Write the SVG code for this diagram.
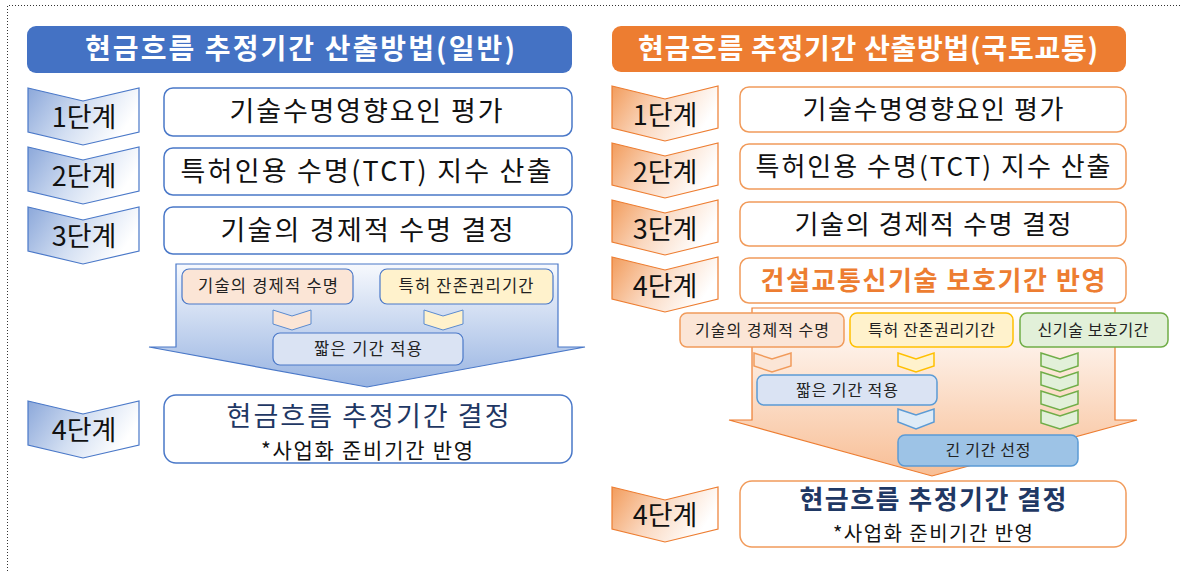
<svg xmlns="http://www.w3.org/2000/svg" width="1182" height="571" viewBox="0 0 1182 571">
<defs>
<linearGradient id="gChevB" x1="0" y1="0" x2="1" y2="0.35">
<stop offset="0" stop-color="#8CA8DA"/><stop offset="0.55" stop-color="#D3DFF2"/><stop offset="1" stop-color="#FFFFFF"/>
</linearGradient>
<linearGradient id="gChevO" x1="0" y1="0" x2="1" y2="0.35">
<stop offset="0" stop-color="#F29C5C"/><stop offset="0.5" stop-color="#FAD8C0"/><stop offset="1" stop-color="#FFFFFF"/>
</linearGradient>
<linearGradient id="gArrB" x1="0" y1="0" x2="0" y2="1">
<stop offset="0" stop-color="#F7F9FD"/><stop offset="1" stop-color="#98B4E2"/>
</linearGradient>
<linearGradient id="gArrO" x1="0" y1="0" x2="0" y2="1">
<stop offset="0" stop-color="#FFFFFF"/><stop offset="1" stop-color="#F8BE95"/>
</linearGradient>
<style>
text { font-family: "Noto Sans CJK KR", "Noto Sans", sans-serif; text-anchor: middle; }
.title { font-size: 28px; font-weight: 700; fill: #FFFFFF; }
.step { font-size: 27px; fill: #111111; }
.main { font-size: 27px; fill: #111111; }
.mainR { font-size: 26px; fill: #111111; }
.small { font-size: 16.5px; fill: #222222; }
.smallR { font-size: 16px; fill: #222222; }
.navy { font-size: 27px; fill: #1F3864; }
.sub { font-size: 21px; fill: #111111; }
.boxB { fill: #FFFFFF; stroke: #4A78C8; stroke-width: 1.5; }
.boxO { fill: #FFFFFF; stroke: #F19B5B; stroke-width: 1.5; }
.chevB { fill: url(#gChevB); stroke: #4A78C8; stroke-width: 1.2; }
.chevO { fill: url(#gChevO); stroke: #ED7D31; stroke-width: 1.2; }
</style>
</defs>
<rect width="1182" height="571" fill="#FFFFFF"/>
<path d="M7.5,571 V5.5 H1182" fill="none" stroke="#333333" stroke-width="1" stroke-dasharray="1 2"/>

<!-- Left panel -->
<g id="title-left"><rect x="27" y="26" width="545" height="47" rx="9" fill="#4472C4"/><text class="title" x="300" y="59" textLength="430">현금흐름 추정기간 산출방법(일반)</text></g>
<g id="l-step1"><polygon class="chevB" points="28,88 83,101 139,88 139,132 83,145 28,132"/><text class="step" x="84" y="127">1단계</text></g>
<g id="l-box1"><rect class="boxB" x="164" y="88" width="408" height="48" rx="9"/><text class="main" x="366" y="121" textLength="273">기술수명영향요인 평가</text></g>
<g id="l-step2"><polygon class="chevB" points="28,147 83,160 139,147 139,191 83,204 28,191"/><text class="step" x="84" y="186">2단계</text></g>
<g id="l-box2"><rect class="boxB" x="164" y="148" width="408" height="47" rx="9"/><text class="main" x="366" y="181" textLength="371">특허인용 수명(TCT) 지수 산출</text></g>
<g id="l-step3"><polygon class="chevB" points="28,207 83,220 139,207 139,251 83,264 28,251"/><text class="step" x="84" y="246">3단계</text></g>
<g id="l-box3"><rect class="boxB" x="164" y="207" width="408" height="47" rx="9"/><text class="main" x="367" y="240" textLength="293">기술의 경제적 수명 결정</text></g>

<g id="connectors">
<polygon points="176,264 558,264 558,347 585,347 367,387 149,347 176,347" fill="url(#gArrB)" stroke="#4A78C8" stroke-width="1.2"/>
<polygon points="273,310 292,316 311,310 311,324 292,330 273,324" fill="#FBE5D6" stroke="#5B8BD0" stroke-width="1"/>
<polygon points="424,310 443,316 463,310 463,324 443,330 424,324" fill="#FFF2CC" stroke="#5B8BD0" stroke-width="1"/>
<polygon points="752,308 1115,308 1115,420 1137,420 932,476 729,420 752,420" fill="url(#gArrO)" stroke="#ED7D31" stroke-width="1.2"/>
<polygon points="754,353 772,359 791,353 791,366 772,372 754,366" fill="#FBE5D6" stroke="#F19B5B" stroke-width="1.5"/>
<polygon points="898,353 916,359 934,353 934,366 916,372 898,366" fill="#FFF2CC" stroke="#FFC000" stroke-width="1.5"/>
<polygon points="1041,353 1060,359 1078,353 1078,366 1060,372 1041,366" fill="#E2F0D9" stroke="#70AD47" stroke-width="1.5"/>
<polygon points="1041,372 1060,378 1078,372 1078,385 1060,391 1041,385" fill="#E2F0D9" stroke="#70AD47" stroke-width="1.5"/>
<polygon points="1041,391 1060,397 1078,391 1078,404 1060,410 1041,404" fill="#E2F0D9" stroke="#70AD47" stroke-width="1.5"/>
<polygon points="1041,410 1060,416 1078,410 1078,423 1060,429 1041,423" fill="#E2F0D9" stroke="#70AD47" stroke-width="1.5"/>
<polygon points="898,409 916,415 934,409 934,422 916,429 898,422" fill="#DEEBF7" stroke="#5B9BD5" stroke-width="1.5"/>
</g>

<g id="l-econ"><rect x="182" y="269" width="171" height="35" rx="7" fill="#FBE5D6" stroke="#4A78C8" stroke-width="1.2"/><text class="small" x="268" y="292" textLength="140">기술의 경제적 수명</text></g>
<g id="l-patent"><rect x="380" y="269" width="173" height="35" rx="7" fill="#FFF2CC" stroke="#4A78C8" stroke-width="1.2"/><text class="small" x="466" y="292" textLength="135">특허 잔존권리기간</text></g>
<g id="l-short"><rect x="273" y="333" width="190" height="32" rx="7" fill="#DAE3F3" stroke="#4A78C8" stroke-width="1.2"/><text class="small" x="368" y="355" textLength="108">짧은 기간 적용</text></g>

<g id="l-step4"><polygon class="chevB" points="28,401 83,414 139,401 139,445 83,458 28,445"/><text class="step" x="84" y="440">4단계</text></g>
<g id="l-box4"><rect class="boxB" x="164" y="395" width="408" height="68" rx="12"/><text class="navy" x="368" y="426" textLength="283">현금흐름 추정기간 결정</text><text class="sub" x="367" y="458" textLength="212">*사업화 준비기간 반영</text></g>

<!-- Right panel -->
<g id="title-right"><rect x="612" y="26" width="514" height="46" rx="9" fill="#ED7D31"/><text class="title" x="868" y="59" textLength="460">현금흐름 추정기간 산출방법(국토교통)</text></g>
<g id="r-step1"><polygon class="chevO" points="612,86 665,99 718,86 718,128 665,141 612,128"/><text class="step" x="665" y="125">1단계</text></g>
<g id="r-box1"><rect class="boxO" x="740" y="87" width="386" height="45" rx="9"/><text class="mainR" x="933" y="119" textLength="261">기술수명영향요인 평가</text></g>
<g id="r-step2"><polygon class="chevO" points="612,143 665,156 718,143 718,185 665,198 612,185"/><text class="step" x="665" y="182">2단계</text></g>
<g id="r-box2"><rect class="boxO" x="740" y="144" width="386" height="45" rx="9"/><text class="mainR" x="933" y="176" textLength="355">특허인용 수명(TCT) 지수 산출</text></g>
<g id="r-step3"><polygon class="chevO" points="612,200 665,213 718,200 718,242 665,255 612,242"/><text class="step" x="665" y="239">3단계</text></g>
<g id="r-box3"><rect class="boxO" x="740" y="202" width="386" height="44" rx="9"/><text class="mainR" x="933" y="234" textLength="277">기술의 경제적 수명 결정</text></g>
<g id="r-step4"><polygon class="chevO" points="612,257 665,270 718,257 718,299 665,312 612,299"/><text class="step" x="665" y="296">4단계</text></g>
<g id="r-box4"><rect class="boxO" x="740" y="258" width="386" height="45" rx="9"/><text class="mainR" x="933" y="290" textLength="345" style="fill:#ED7D31;font-weight:700">건설교통신기술 보호기간 반영</text></g>

<g id="r-econ"><rect x="680" y="313" width="164" height="34" rx="7" fill="#FBE5D6" stroke="#F19B5B" stroke-width="1.5"/><text class="smallR" x="762" y="336" textLength="134">기술의 경제적 수명</text></g>
<g id="r-patent"><rect x="850" y="313" width="163" height="34" rx="7" fill="#FFF2CC" stroke="#FFC000" stroke-width="1.5"/><text class="smallR" x="931.5" y="336" textLength="127">특허 잔존권리기간</text></g>
<g id="r-newtech"><rect x="1020" y="313" width="148" height="34" rx="7" fill="#E2F0D9" stroke="#70AD47" stroke-width="1.5"/><text class="smallR" x="1093" y="336" textLength="111">신기술 보호기간</text></g>
<g id="r-short"><rect x="757" y="375" width="180" height="30" rx="7" fill="#DAE3F3" stroke="#5B9BD5" stroke-width="1.5"/><text class="smallR" x="847" y="396" textLength="102">짧은 기간 적용</text></g>
<g id="r-long"><rect x="898" y="435" width="180" height="31" rx="7" fill="#9DC3E6" stroke="#5B9BD5" stroke-width="1.5"/><text class="smallR" x="988" y="456" textLength="85">긴 기간 선정</text></g>

<g id="r-step5"><polygon class="chevO" points="612,487 665,500 718,487 718,529 665,542 612,529"/><text class="step" x="665" y="525">4단계</text></g>
<g id="r-box5"><rect class="boxO" x="740" y="481" width="386" height="66" rx="12"/><text class="navy" x="933" y="509" textLength="267" style="font-size:26px;font-weight:700">현금흐름 추정기간 결정</text><text class="sub" x="933" y="541" textLength="200" style="font-size:20px">*사업화 준비기간 반영</text></g>
</svg>
